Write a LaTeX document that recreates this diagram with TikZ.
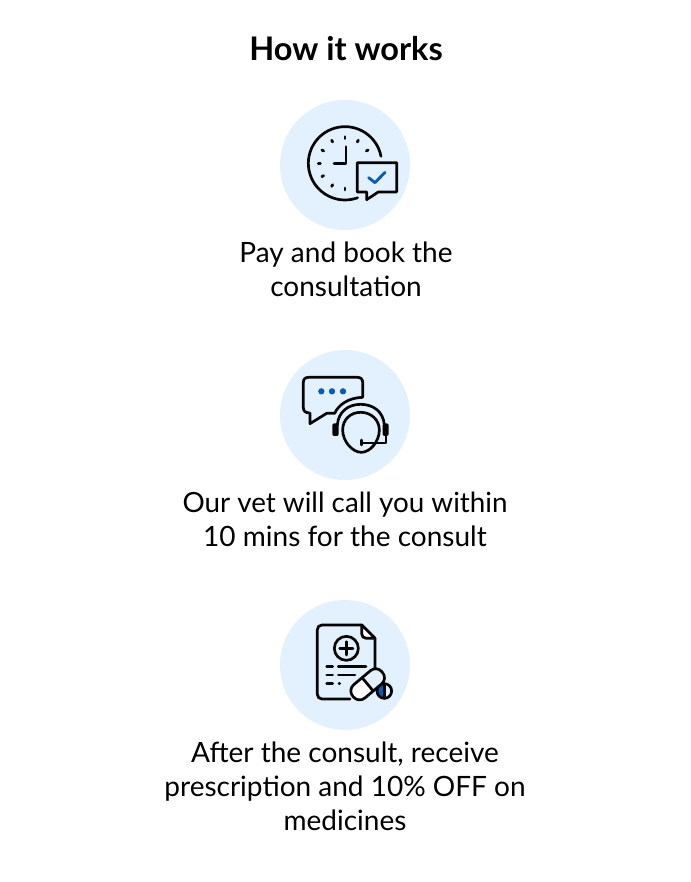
\documentclass[tikz,border=0pt]{standalone}
\usepackage{fontspec}
\setmainfont{Lato}
\definecolor{bg}{HTML}{E3F1FE}
\definecolor{accent}{HTML}{0B5CB0}
\definecolor{ink}{HTML}{050505}
\tikzset{
  disc/.style={circle,fill=bg,draw=none,minimum size=130pt,inner sep=0pt},
  titletext/.style={anchor=base,font=\bfseries\fontsize{32.5}{36}\selectfont,text=black,inner sep=0pt},
  bodytext/.style={anchor=base,font=\fontsize{28}{34}\selectfont,text=black,inner sep=0pt},
  bodytight/.style={bodytext,font=\fontsize{27.8}{34}\selectfont},
  iconline/.style={draw=ink,line width=2.7pt,line cap=round,line join=round},
  thinline/.style={draw=ink,line width=2pt,line cap=round,line join=round},
  accentline/.style={draw=accent,line width=2.9pt,line cap=round,line join=round},
  zoomed/.style={x=0.3333pt,y=-0.3333pt}
}
\begin{document}
\begin{tikzpicture}[x=1pt,y=-1pt]
\useasboundingbox (0,0) rectangle (690,882);
\fill[white] (0,0) rectangle (690,882);
\node[titletext] (title) at (346,60.5) {How it works};
\node[disc] (d1) at (345,165) {};
\node[disc] (d2) at (345,415) {};
\node[disc] (d3) at (345,665) {};
\node[bodytext] (t1a) at (346,262) {Pay and book the};
\node[bodytext] (t1b) at (346,296) {consultation};
\node[bodytight] (t2a) at (345,512) {Our vet will call you within};
\node[bodytext] (t2b) at (345,546) {10 mins for the consult};
\node[bodytext] (t3a) at (345,762) {After the consult, receive};
\node[bodytext] (t3b) at (345,796) {prescription and 10\% OFF on};
\node[bodytext] (t3c) at (345,830) {medicines};
% clock
\begin{scope}[shift={(270,95)},zoomed]
  \draw[iconline] (333,184) arc[start angle=-11,end angle=-290,radius=110];
  \draw[iconline] (228,155) -- (228,205) -- (192,205);
  \foreach \a in {0,30,60,180,210,240,270,300,330}{
    \draw[iconline,line width=2.8pt] ({225+sin(\a)*74},{205-cos(\a)*74}) -- ({225+sin(\a)*80},{205-cos(\a)*80});
  }
  \draw[iconline] (262,203) -- (380,203) -- (380,291) -- (325,291) -- (290,314) -- (290,291) -- (262,291) -- cycle;
  \draw[accentline] (296,248) -- (315,263) -- (345,232);
\end{scope}
% headset
\begin{scope}[shift={(270,345)},zoomed]
  \draw[iconline] (278,155) -- (278,112) .. controls (278,102) and (272,97) .. (262,97) -- (116,97) .. controls (106,97) and (100,102) .. (100,112) -- (100,188) .. controls (100,198) and (106,204) .. (120,204) -- (120,236) -- (170,205) -- (194,205) .. controls (205,180) and (235,158) .. (278,157);
  \draw[iconline] (202,240) .. controls (205,200) and (235,178) .. (272,178) .. controls (310,178) and (340,200) .. (343,240);
  \draw[iconline] (272,202) .. controls (240,202) and (218,225) .. (218,255) .. controls (218,290) and (248,322) .. (274,322) .. controls (300,322) and (328,290) .. (328,255) .. controls (328,225) and (304,202) .. (272,202) -- cycle;
  \fill[ink,rounded corners=2pt] (187,235) rectangle (206,273);
  \fill[ink,rounded corners=2pt] (338,235) rectangle (356,273);
  \draw[thinline] (348,272) -- (348,293) -- (275,293);
  \draw[iconline] (275,285) -- (275,300);
  \fill[accent] (154,139) circle (9.5);
  \fill[accent] (186,139) circle (9.5);
  \fill[accent] (219,139) circle (9.5);
\end{scope}
% prescription
\begin{scope}[shift={(270,595)},zoomed]
  \draw[iconline] (240,312) -- (156,312) .. controls (148,312) and (142,306) .. (142,298) -- (142,104) .. controls (142,96) and (148,90) .. (156,90) -- (275,90) -- (315,130) -- (315,220);
  \draw[iconline,fill=white] (275,90) -- (275,116) .. controls (275,124) and (281,130) .. (289,130) -- (315,130) -- cycle;
  \draw[iconline] (229,160) circle (36);
  \draw[iconline] (229,140) -- (229,180) (209,160) -- (249,160);
  \draw[iconline] (170,215) -- (188,215) (205,215) -- (288,215);
  \draw[iconline] (170,240) -- (188,240) (205,240) -- (255,240);
  \draw[iconline] (170,266) -- (188,266) (207,266) -- (209,266);
  \fill[bg] (343,288) circle (22);
  \fill[accent] (343,266) arc[start angle=-90,end angle=-270,radius=22] -- cycle;
  \draw[iconline] (343,288) circle (22);
  \draw[iconline] (343,266) -- (343,310);
  \begin{scope}[shift={(293,268)},rotate=40]
    \fill[bg,rounded corners=8pt] (-57,-26) rectangle (57,26);
    \fill[white,rounded corners=8pt] (-57,-26) rectangle (0,26);
    \draw[iconline,rounded corners=8pt] (-57,-26) rectangle (57,26);
    \draw[iconline] (0,-26) -- (0,26);
  \end{scope}
\end{scope}
\end{tikzpicture}
\end{document}
